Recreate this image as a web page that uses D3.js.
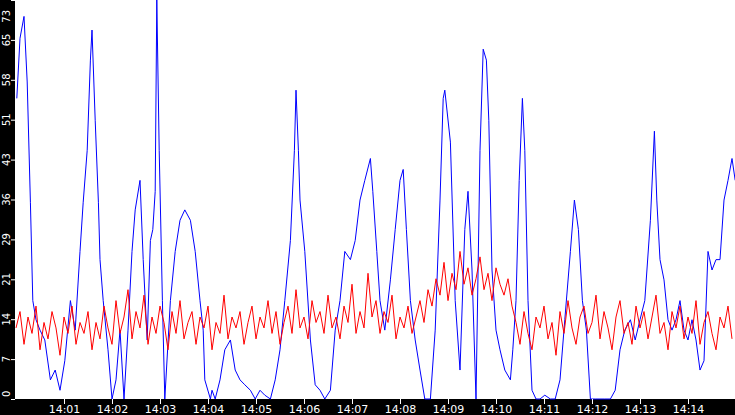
<!DOCTYPE html><html><head><meta charset="utf-8"><script src="https://cdn.jsdelivr.net/npm/d3@7"></script>
<style>body{margin:0;background:#000}svg{display:block}</style></head><body><svg id="c" width="735" height="415"></svg><script>
const blueSec=[1,5,10,14,18,21,25,30,36,43,49,55,61,68,74,80,84,89,93,95,99,103,105,109,115,120,125,130,135,140,145,149,155,159,164,168,171,174,176,179,183,186,193,199,205,211,218,224,230,234,236,243,245,249,255,261,268,274,280,286,293,299,305,311,318,324,330,336,343,348,350,353,355,361,368,374,380,386,393,399,405,411,418,424,430,436,443,446,451,455,461,468,474,480,484,488,493,499,505,511,518,524,530,534,536,543,549,555,561,565,570,575,580,584,588,591,595,600,605,611,618,621,625,629,633,636,640,645,650,655,661,668,674,680,686,693,698,703,708,713,718,724,730,736,743,749,755,761,768,774,780,786,793,798,801,805,810,815,820,825,830,835,840,845,850,855,860,865,870,875,880,885,890,895,899];
const blueVal=[55,66,70,58,36,18,14.5,12.6,10.8,3.5,5.3,1.6,7,18,12.6,27,36,45.5,62,67.5,51,36,25.5,18,9,0,3.5,12.6,0,12.6,27,34.6,40,25.5,10.8,29,31,38,73,45.5,18,0,18,27,32.7,34.6,32.7,27,18,12.6,3.5,0,1.6,0,3.5,9,10.8,5.3,3.5,2.6,1.6,0,1.6,0.7,0,3.5,9,18,29,45.5,56.5,45.5,36.4,27,10.8,2.6,1.6,0,1.6,12.6,18,27,25.5,29,36.4,40,44,38,27,18,12.6,21.8,31,40,42,31,18,10.8,5.3,0,0,12.6,36.4,55,56.5,47,18,5.3,31,38,23.6,0,45.5,64,62,51,23.6,12.6,9,5.3,3.5,9,18,40,55,45.5,18,1.6,0,0,0.7,0,0,3.5,14.5,27,36.4,31,18,12.6,0,0,0,0,0,1.6,9,12.6,14.5,10.8,14.5,18,32.7,49,36.4,25.5,21.8,14.5,12.6,14.5,18,12.6,10.8,14.5,10.8,5.3,7,27,23.6,25.5,25.5,36.4,40,44,40];
const redVal=[13,16,10,15,12,17,9,14,11,16,13,8,15,12,17,10,14,12,16,9,
14,11,17,13,10,18,12,15,20,11,16,13,19,10,15,12,17,14,9,16,
12,18,11,14,16,10,15,13,17,9,14,12,19,11,15,13,16,10,14,17,
11,15,13,18,12,16,10,14,17,12,20,13,15,11,18,14,16,12,19,13,
15,11,17,14,21,12,16,13,23,15,18,12,16,14,19,11,15,13,17,12,
15,18,14,20,17,22,19,25,18,23,20,27,21,24,19,22,26,20,23,18,24,21,19,22,17,
14,10,16,12,9,15,13,17,11,14,8,16,12,18,13,10,15,17,12,14,19,11,16,13,9,15,18,12,14,10,17,13,16,11,15,19,12,14,9,16,13,17,11,15,12,18,10,14,16,12,9,15,13,17,11];
const redSec=redVal.map((d,i)=>i*5);
const yTicks=[0,7,14,21,29,36,43,51,58,65,73];
const xTickLabels=["14:01","14:02","14:03","14:04","14:05","14:06","14:07","14:08","14:09","14:10","14:11","14:12","14:13","14:14"];
const svg=d3.select("#c");
const L=15,R=735,T=0,B=399;
const x=d3.scaleLinear().domain([0,900]).range([L+1,R+1]);
const y=d3.scaleLinear().domain([0,73]).range([B,T]);
svg.append("rect").attr("x",L).attr("y",0).attr("width",R-L).attr("height",B).attr("fill","#fff");
svg.append("path").attr("d",d3.line()(blueSec.map((s,i)=>[x(s),y(blueVal[i])]))).attr("fill","none").attr("stroke","#0000ff").attr("stroke-width",1);
svg.append("path").attr("d",d3.line()(redSec.map((s,i)=>[x(s),y(redVal[i])]))).attr("fill","none").attr("stroke","#ff0000").attr("stroke-width",1);
const yi=yTicks.map((t,k)=>({t,v:k*7.3}));
const yl=svg.append("g").attr("font-family","DejaVu Sans").attr("font-size",10).attr("fill","#fff");
yi.forEach(d=>{const py=y(d.v);
 svg.append("line").attr("x1",11).attr("x2",L).attr("y1",py+0.5).attr("y2",py+0.5).attr("stroke","#fff");
 let ty=Math.min(Math.max(py,10),B-2);
 yl.append("text").attr("transform",`translate(10,${ty}) rotate(-90)`).attr("text-anchor",d.v===0?"start":(d.v>=73?"end":"middle")).text(d.t);
});
const xl=svg.append("g").attr("font-family","DejaVu Sans").attr("font-size",11).attr("fill","#fff").attr("text-anchor","middle");
xTickLabels.forEach((l,i)=>{const px=Math.round(x((i+1)*60))+0.5;
 svg.append("line").attr("x1",px).attr("x2",px).attr("y1",B).attr("y2",B+5).attr("stroke","#fff");
 xl.append("text").attr("x",px).attr("y",B+14).text(l);
});
</script></body></html>
